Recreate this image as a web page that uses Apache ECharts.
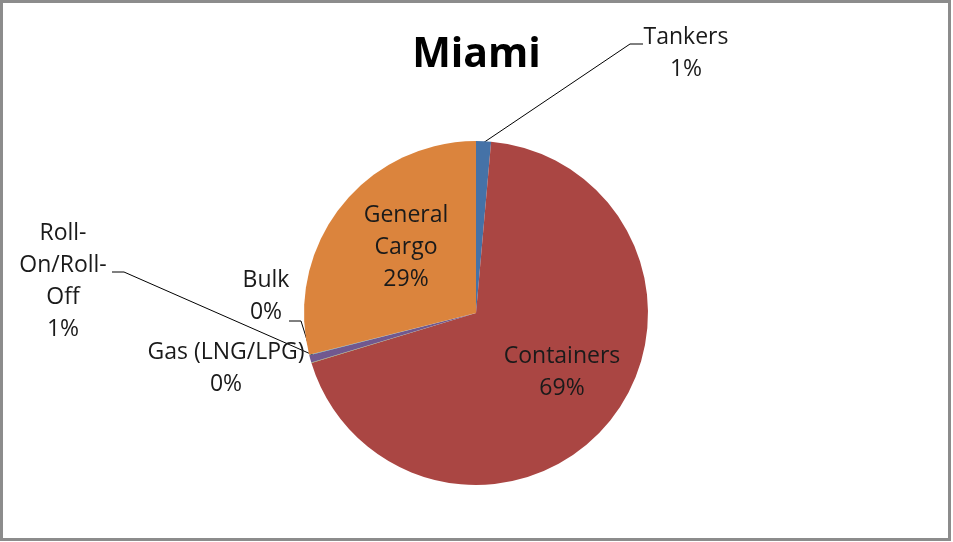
<!DOCTYPE html>
<html><head><meta charset="utf-8">
<script src="https://cdn.jsdelivr.net/npm/echarts@6/dist/echarts.min.js"></script>
<style>html,body{margin:0;padding:0;background:#fff}#c{width:953px;height:542px}</style>
</head><body><div id="c"></div>
<script>
var categories = ['Tankers', 'Containers', 'Gas (LNG/LPG)', 'Roll-On/Roll-Off', 'Bulk', 'General Cargo'];
var labelTexts = ['Tankers', 'Containers', 'Gas (LNG/LPG)', 'Roll-\nOn/Roll-\nOff', 'Bulk', 'General\nCargo'];
var values = [1.4, 68.9, 0.05, 0.7, 0.05, 28.9];
var colors = ['#4572A7', '#AA4643', '#89A54E', '#71588F', '#4198AF', '#DB843D'];

// label placement (text styling/positions only)
var labelPos = [
  {x: 686, y: 53, line: [[483, 143], [630, 44], [643, 44]]},
  {x: 562, y: 372},
  {x: 226, y: 368},
  {x: 63, y: 281, line: [[313, 355], [124, 272], [112, 272]]},
  {x: 266, y: 296, line: [[312, 356], [301, 321], [289, 321]]},
  {x: 406, y: 247}
];

var FONT = 'Open Sans';
var chart = echarts.init(document.getElementById('c'), null, {renderer: 'canvas'});
chart.setOption({
  animation: false,
  backgroundColor: '#fff',
  title: {
    text: 'Miami', left: 'center', top: 30,
    textStyle: {fontFamily: FONT, fontSize: 41, fontWeight: 'bold', color: '#000'}
  },
  graphic: [{
    type: 'rect', shape: {x: 1.5, y: 1.5, width: 948, height: 538},
    style: {fill: 'none', stroke: '#8c8c8c', lineWidth: 3}, silent: true
  }],
  series: [{
    type: 'pie',
    center: [476, 313],
    radius: 172,
    startAngle: 90,
    clockwise: true,
    avoidLabelOverlap: false,
    data: categories.map(function (c, i) {
      return {name: c, value: values[i], itemStyle: {color: colors[i]}};
    }),
    label: {
      show: true,
      position: 'outside',
      fontFamily: FONT, fontSize: 23, lineHeight: 32, color: '#1a1a1a',
      align: 'center',
      formatter: function (p) {
        return labelTexts[p.dataIndex] + '\n' + Math.round(p.percent) + '%';
      }
    },
    labelLine: {show: true, length: 10, length2: 10, lineStyle: {color: '#000', width: 1}},
    labelLayout: function (p) {
      var lp = labelPos[p.dataIndex];
      var r = {x: lp.x, y: lp.y, align: 'center', verticalAlign: 'middle'};
      if (lp.line) r.labelLinePoints = lp.line;
      else r.labelLinePoints = [[lp.x, lp.y], [lp.x, lp.y], [lp.x, lp.y]];
      return r;
    },
    itemStyle: {borderWidth: 0}
  }]
});
</script>
</body></html>
